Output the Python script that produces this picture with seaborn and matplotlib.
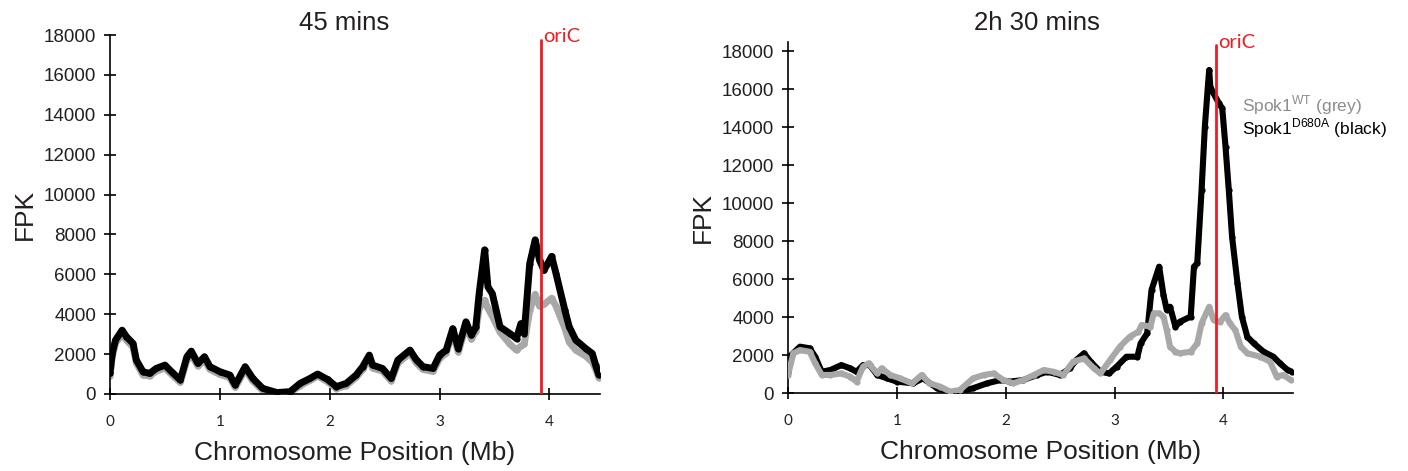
import numpy as np
import pandas as pd
import matplotlib
matplotlib.use("Agg")
import matplotlib.pyplot as plt
import seaborn as sns

# ---------------- data (Mb, FPK) ----------------
left_x = [0.00, 0.02, 0.05, 0.11, 0.15, 0.21, 0.24, 0.30, 0.36, 0.42, 0.50, 0.56, 0.64, 0.70, 0.74,
          0.80, 0.86, 0.91, 1.00, 1.09, 1.14, 1.23, 1.30, 1.39, 1.52, 1.64, 1.73, 1.82, 1.89, 1.98,
          2.06, 2.15, 2.24, 2.30, 2.36, 2.39, 2.48, 2.56, 2.62, 2.73, 2.79, 2.85, 2.94, 3.00, 3.06,
          3.12, 3.17, 3.24, 3.29, 3.33, 3.36, 3.41, 3.44, 3.48, 3.55, 3.64, 3.70, 3.74, 3.77, 3.82,
          3.87, 3.91, 3.95, 4.02, 4.06, 4.14, 4.18, 4.24, 4.33, 4.39, 4.42, 4.45]
left_black = [1030, 2030, 2700, 3200, 2870, 2530, 1700, 1120, 1030, 1280, 1450, 1120, 700, 1870, 2150,
              1530, 1870, 1370, 1120, 950, 450, 1370, 780, 280, 70, 120, 530, 780, 1000, 730,
              370, 530, 950, 1370, 1950, 1450, 1280, 780, 1700, 2200, 1700, 1370, 1280, 1950, 2200,
              3280, 2280, 3620, 2950, 3370, 5030, 7230, 5370, 5030, 3370, 3030, 2780, 3530, 3030, 6530,
              7730, 6700, 6200, 6900, 6030, 4200, 3370, 2700, 2280, 2030, 1450, 950]
left_grey = [900, 1850, 2550, 3000, 2700, 2350, 1550, 950, 900, 1150, 1300, 980, 580, 1700, 1980,
             1400, 1700, 1230, 980, 820, 330, 1230, 650, 170, 30, 60, 420, 680, 900, 620,
             270, 420, 830, 1230, 1780, 1300, 1150, 650, 1550, 2050, 1550, 1230, 1130, 1780, 2050,
             3080, 2100, 3400, 2750, 3150, 4300, 4700, 4300, 3900, 3100, 2500, 2200, 2400, 2500, 4200,
             5000, 4400, 4500, 4800, 4400, 3300, 2600, 2200, 1900, 1600, 1250, 800]

right_black_x = [0.00, 0.03, 0.11, 0.20, 0.25, 0.31, 0.39, 0.49, 0.57, 0.63, 0.69, 0.75, 0.82, 0.91,
                 1.00, 1.15, 1.24, 1.37, 1.49, 1.58, 1.70, 1.83, 1.95, 2.04, 2.16, 2.29, 2.38, 2.50,
                 2.59, 2.65, 2.72, 2.78, 2.87, 2.95, 3.02, 3.11, 3.21, 3.24, 3.30, 3.34, 3.41, 3.45,
                 3.48, 3.51, 3.56, 3.60, 3.70, 3.73, 3.76, 3.80, 3.83, 3.86, 3.87, 3.88, 3.91, 3.96,
                 3.99, 4.02, 4.05, 4.08, 4.13, 4.17, 4.22, 4.28, 4.37, 4.46, 4.52, 4.59, 4.63]
right_black = [1120, 2000, 2440, 2350, 1910, 1120, 1210, 1470, 1300, 1120, 1470, 1470, 950, 770,
               600, 510, 770, 250, 20, 70, 250, 510, 680, 600, 680, 950, 1120, 950,
               1300, 1740, 2090, 1650, 1120, 1030, 1390, 1910, 1910, 2610, 3140, 5420, 6650, 5160,
               4370, 4540, 3490, 3750, 4020, 6650, 6820, 10680, 14010, 16300, 17000, 16120, 15770, 15240,
               14980, 12960, 10680, 8230, 5770, 4020, 2960, 2610, 2170, 1910, 1560, 1210, 1120]

right_grey_x = [0.00, 0.05, 0.11, 0.20, 0.25, 0.31, 0.39, 0.49, 0.57, 0.63, 0.69, 0.74, 0.82, 0.86,
                0.94, 1.03, 1.14, 1.23, 1.30, 1.40, 1.49, 1.58, 1.70, 1.80, 1.89, 1.98, 2.07, 2.16,
                2.26, 2.35, 2.44, 2.53, 2.62, 2.72, 2.81, 2.87, 2.96, 3.05, 3.14, 3.22, 3.25, 3.33,
                3.36, 3.41, 3.45, 3.48, 3.51, 3.56, 3.60, 3.70, 3.76, 3.80, 3.87, 3.91, 3.97, 4.02,
                4.06, 4.11, 4.16, 4.22, 4.34, 4.43, 4.49, 4.55, 4.62]
right_grey = [950, 2090, 2260, 2170, 1560, 950, 950, 1030, 860, 600, 1390, 1560, 1030, 1300,
              950, 770, 510, 950, 510, 330, 70, 160, 770, 950, 1030, 680, 510, 680,
              950, 1210, 1120, 950, 1650, 1820, 1300, 1030, 1740, 2440, 2960, 3230, 3580, 3490,
              4190, 4190, 4020, 3310, 2440, 2170, 2090, 2170, 2610, 3670, 4540, 3840, 3750, 4100,
              3670, 3310, 2440, 2090, 1910, 1650, 860, 950, 680]

panel_titles = ["45 mins", "2h 30 mins"]
y_ticks = [0, 2000, 4000, 6000, 8000, 10000, 12000, 14000, 16000, 18000]
x_ticks = [0, 1, 2, 3, 4]
oric_pos = [3.92, 3.93]
legend_labels = [r"Spok1$^{\mathrm{WT}}$ (grey)", r"Spok1$^{\mathrm{D680A}}$ (black)"]

# ---------------- style ----------------
sns.set_theme(style="white")
plt.rcParams["font.family"] = ["Liberation Sans", "DejaVu Sans"]
plt.rcParams["mathtext.fontset"] = "custom"
plt.rcParams["mathtext.rm"] = "Liberation Sans"

GREY = "#a8a8a8"
BLACK = "#000000"
RED = "#ee1c25"
TXT = "#231f20"

fig = plt.figure(figsize=(14.08, 4.71), dpi=100)
ax_l = fig.add_axes([110 / 1408, 1 - 394 / 471, 490 / 1408, 359 / 471])
ax_r = fig.add_axes([788 / 1408, 1 - 393 / 471, 505 / 1408, 351.5 / 471])

df_l = pd.concat([
    pd.DataFrame({"x": left_x, "y": left_grey, "s": "grey"}),
    pd.DataFrame({"x": left_x, "y": left_black, "s": "black"}),
])
df_r = pd.concat([
    pd.DataFrame({"x": right_black_x, "y": right_black, "s": "black"}),
    pd.DataFrame({"x": right_grey_x, "y": right_grey, "s": "grey"}),
])
pal = {"grey": GREY, "black": BLACK}

for ax, df, order, lw in [(ax_l, df_l, ["grey", "black"], 5.0), (ax_r, df_r, ["black", "grey"], 4.4)]:
    for s in order:
        sub = df[df["s"] == s]
        sns.lineplot(data=sub, x="x", y="y", color=pal[s], linewidth=lw, ax=ax,
                     marker="o", markersize=4.5, markeredgewidth=0, sort=False,
                     estimator=None, legend=False, zorder=3 if s == order[-1] else 2)

# limits
ax_l.set_xlim(0, 4.46)
ax_l.set_ylim(0, 18000)
ax_r.set_xlim(0, 4.64)
ax_r.set_ylim(0, 18500)

for i, ax in enumerate([ax_l, ax_r]):
    ax.set_xticks(x_ticks)
    ax.set_yticks(y_ticks)
    ax.set_xticklabels([str(t) for t in x_ticks], fontsize=11, family=["Lato", "DejaVu Sans"], color=TXT)
    ax.set_yticklabels([str(t) for t in y_ticks], fontsize=13.5, color=TXT)
    ax.tick_params(axis="both", direction="inout", length=8, width=1.2, color="black",
                   bottom=True, left=True)
    ax.tick_params(axis="y", pad=6)
    ax.tick_params(axis="x", pad=11)
    for side in ["top", "right"]:
        ax.spines[side].set_visible(False)
    for side in ["left", "bottom"]:
        ax.spines[side].set_color("black")
        ax.spines[side].set_linewidth(1.2)
    ax.set_xlabel("Chromosome Position (Mb)", fontsize=19, color=TXT, labelpad=9)
    ax.set_ylabel("FPK", fontsize=19, color=TXT, labelpad=5)
    ax.set_facecolor("white")
    # oriC line
    ax.axvline(oric_pos[i], ymin=0, ymax=(17750 / 18000) if i == 0 else 18300 / 18500,
               color=RED, linewidth=2, zorder=5)
    ax.text(oric_pos[i] + 0.02, 17500 if i == 0 else 18000, "oriC", color=RED, fontsize=14.5,
            family=["Lato", "DejaVu Sans"], ha="left", va="bottom", zorder=6)

fig.text(344 / 1408, 1 - 23 / 471, panel_titles[0], fontsize=18.5, color=TXT, ha="center", va="center")
fig.text(1037 / 1408, 1 - 23 / 471, panel_titles[1], fontsize=18.5, color=TXT, ha="center", va="center")

ax_r.text(4.17, 15150, legend_labels[0], color="#8c8c8c", fontsize=12.5, ha="left", va="center")
ax_r.text(4.17, 13950, legend_labels[1], color=BLACK, fontsize=12.5, ha="left", va="center")

fig.savefig("out.png", dpi=100, facecolor="white")
